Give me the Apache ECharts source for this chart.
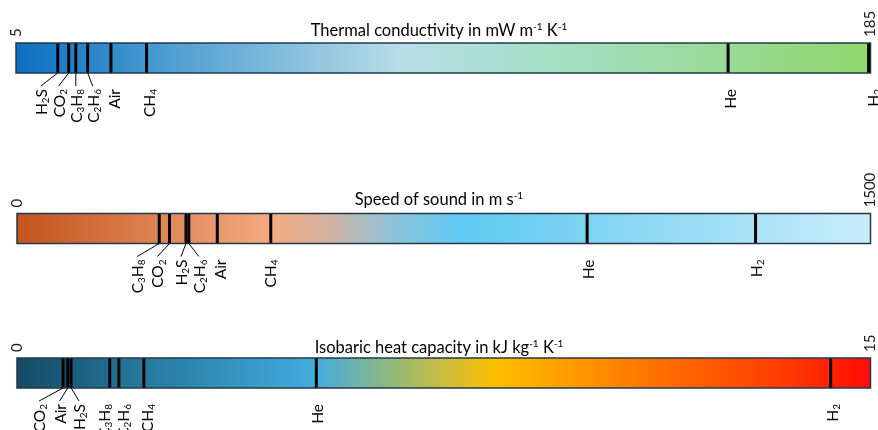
<!DOCTYPE html>
<html>
<head>
<meta charset="utf-8">
<script src="https://cdn.jsdelivr.net/npm/echarts@6/dist/echarts.min.js"></script>
<style>
html,body{margin:0;padding:0;background:#fff;}
#chart{width:878px;height:430px;}
</style>
</head>
<body>
<div id="chart"></div>
<script>
// ---- data ----
const thermalTitle = 'Thermal conductivity in mW m{sup|-1} K{sup|-1}';
const thermalRange = [5, 185];
const thermalGases = ['H2S', 'CO2', 'C3H8', 'C2H6', 'Air', 'CH4', 'He', 'H2'];
const thermalValues = [13.8, 16.1, 17.6, 20.1, 25.0, 32.5, 155, 184.6];

const soundTitle = 'Speed of sound in m s{sup|-1}';
const soundRange = [0, 1500];
const soundGases = ['C3H8', 'CO2', 'H2S', 'C2H6', 'Air', 'CH4', 'He', 'H2'];
const soundValues = [250, 268, 297, 302, 352, 446, 1002, 1298];

const heatTitle = 'Isobaric heat capacity in kJ kg{sup|-1} K{sup|-1}';
const heatRange = [0, 15];
const heatGases = ['CO2', 'Air', 'H2S', 'C3H8', 'C2H6', 'CH4', 'He', 'H2'];
const heatValues = [0.81, 0.89, 0.95, 1.63, 1.79, 2.23, 5.26, 14.3];

// ---- layout / style ----
const FONT = 'Lato';
const labelShift = [
  [-18, -11, -1, 4, 2, 1, 1, 3],
  [-23, -13, -6, 9, 2, -2, 0, -1],
  [-25, -9, 7, -7, 3, 2, 0, 0]
];
const leaderOn = [
  [1, 1, 1, 1, 0, 0, 0, 0],
  [1, 1, 1, 1, 0, 0, 0, 0],
  [1, 1, 1, 0, 0, 0, 0, 0]
];
const gradients = [
  [[0, '#0a6fc2'], [0.17, '#4a9bd2'], [0.45, '#b9dde8'], [0.6, '#a6e0cc'], [1, '#8fd76c']],
  [[0, '#c4531b'], [0.3, '#f3ab83'], [0.36, '#d8b39d'], [0.44, '#8ec3da'], [0.52, '#5ec9f2'], [0.7, '#86d6f4'], [1, '#c9edfa']],
  [[0, '#164a64'], [0.15, '#26799e'], [0.35, '#43acdf'], [0.44, '#93b97a'], [0.56, '#ffc000'], [0.75, '#ff7000'], [0.9, '#ff3a00'], [1, '#ff0a05']]
];
const grids = [
  {left: 16, right: 6, top: 43, height: 30},
  {left: 17, right: 5, top: 213.5, height: 30},
  {left: 17, right: 5, top: 358, height: 30}
];
const titleTops = [22, 191, 339];

const bars = [
  {title: thermalTitle, range: thermalRange, gases: thermalGases, values: thermalValues},
  {title: soundTitle, range: soundRange, gases: soundGases, values: soundValues},
  {title: heatTitle, range: heatRange, gases: heatGases, values: heatValues}
];

function richName(n) { return n.replace(/(\d)/g, '{s|$1}'); }

const subRich = {
  s: {fontSize: 10, lineHeight: 3, verticalAlign: 'bottom', fontFamily: FONT, fill: '#000'}
};

function makeGasRender(b) {
  return function (params, api) {
    const v = api.value(0);
    const x = api.coord([v, 0])[0];
    const cs = params.coordSys;
    const top = cs.y, bot = cs.y + cs.height;
    const i = params.dataIndex;
    const lx = x + labelShift[b][i];
    const children = [{
      type: 'line',
      shape: {x1: x, y1: top + 0.5, x2: x, y2: bot - 0.5},
      style: {stroke: '#000', lineWidth: 3}
    }];
    if (leaderOn[b][i]) {
      children.push({
        type: 'line',
        shape: {x1: x, y1: bot, x2: lx + 1, y2: bot + 13},
        style: {stroke: '#000', lineWidth: 1}
      });
    }
    children.push({
      type: 'text',
      x: lx + 2, y: bot + 16,
      rotation: Math.PI / 2,
      style: {
        text: richName(bars[b].gases[i]),
        fontSize: 15.5, fontFamily: FONT, fill: '#000',
        lineHeight: 18,
        align: 'right', verticalAlign: 'middle',
        rich: subRich
      }
    });
    return {type: 'group', children: children};
  };
}

function makeBarRender(b) {
  return function (params, api) {
    const cs = params.coordSys;
    const x0 = api.coord([api.value(0), 0])[0];
    const x1 = api.coord([api.value(1), 0])[0];
    return {
      type: 'rect',
      shape: {x: x0, y: cs.y, width: x1 - x0, height: cs.height},
      style: {
        fill: {type: 'linear', x: 0, y: 0, x2: 1, y2: 0,
          colorStops: gradients[b].map(s => ({offset: s[0], color: s[1]}))},
        stroke: '#23394a', lineWidth: 1.5
      }
    };
  };
}

const option = {
  animation: false,
  backgroundColor: '#fff',
  title: bars.map((bar, b) => ({
    text: bar.title,
    left: 'center',
    top: titleTops[b],
    padding: 0,
    textStyle: {
      fontFamily: FONT, fontSize: 16.5, fontWeight: 'normal', color: '#000', lineHeight: 18,
      rich: {sup: {fontSize: 10, lineHeight: 6, verticalAlign: 'top', fontFamily: FONT, color: '#000'}}
    }
  })),
  grid: grids.map(g => Object.assign({containLabel: false}, g)),
  xAxis: bars.map((bar, b) => ({
    type: 'value', gridIndex: b, position: 'top',
    min: bar.range[0], max: bar.range[1],
    axisLine: {show: false}, axisTick: {show: false}, splitLine: {show: false},
    axisLabel: {
      show: true, rotate: 90, margin: 6, customValues: bar.range,
      formatter: v => String(v),
      fontFamily: FONT, fontSize: 15, color: '#1a1a1a'
    }
  })),
  yAxis: bars.map((bar, b) => ({type: 'value', gridIndex: b, min: 0, max: 1, show: false})),
  series: [].concat(...bars.map((bar, b) => [
    {
      type: 'custom', xAxisIndex: b, yAxisIndex: b, z: 1,
      renderItem: makeBarRender(b),
      data: [[bar.range[0], bar.range[1]]],
      silent: true
    },
    {
      type: 'custom', xAxisIndex: b, yAxisIndex: b, z: 2,
      renderItem: makeGasRender(b),
      data: bar.values.map(v => [v]),
      silent: true
    }
  ]))
};

const chart = echarts.init(document.getElementById('chart'), null, {renderer: 'canvas'});
chart.setOption(option);
</script>
</body>
</html>
